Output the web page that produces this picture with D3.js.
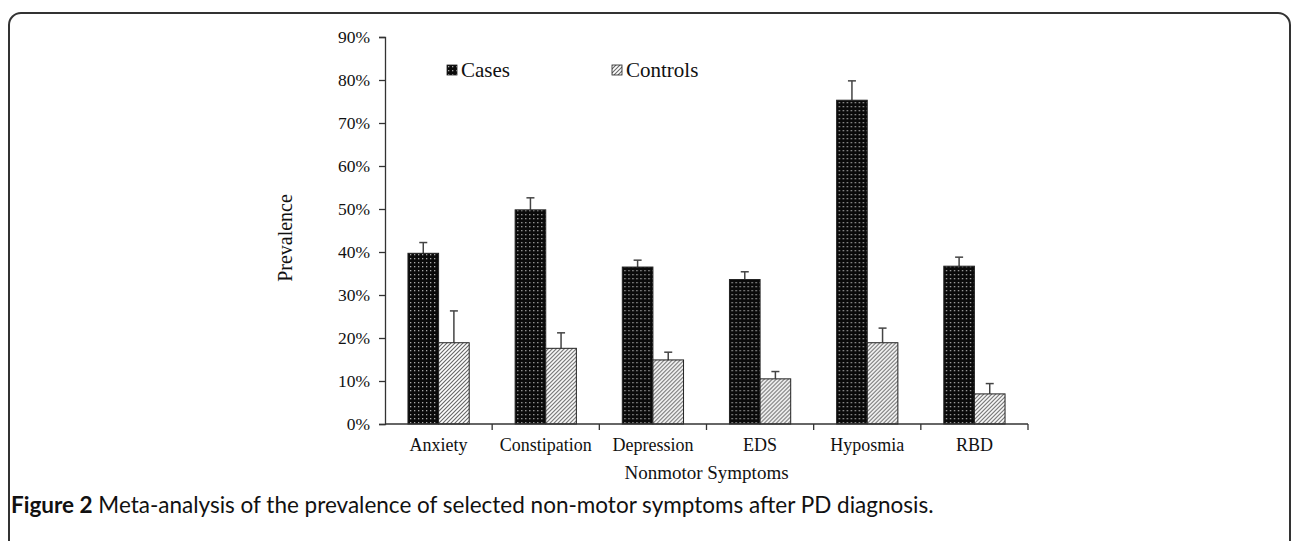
<!DOCTYPE html>
<html>
<head>
<meta charset="utf-8">
<script src="https://cdn.jsdelivr.net/npm/d3@7"></script>
<style>
  html, body { margin: 0; padding: 0; background: #fff; }
  svg { display: block; }
  .serif { font-family: "Liberation Serif", "Times New Roman", serif; fill: #111; }
</style>
</head>
<body>
<svg id="chart" width="1292" height="541"></svg>
<script>
const categories = ['Anxiety', 'Constipation', 'Depression', 'EDS', 'Hyposmia', 'RBD'];
const series = ['Cases', 'Controls'];
const casesValues = [0.397, 0.498, 0.365, 0.336, 0.753, 0.367];
const casesUpper = [0.422, 0.526, 0.381, 0.354, 0.798, 0.388];
const controlsValues = [0.189, 0.176, 0.149, 0.105, 0.189, 0.070];
const controlsUpper = [0.263, 0.212, 0.167, 0.122, 0.223, 0.094];
const yTicks = [0, 0.1, 0.2, 0.3, 0.4, 0.5, 0.6, 0.7, 0.8, 0.9];

const svg = d3.select('#chart');
const margin = { top: 37, right: 264, bottom: 117, left: 385 };
const width = 1292 - margin.left - margin.right;
const height = 541 - margin.top - margin.bottom;

// patterns
const defs = svg.append('defs');
const dots = defs.append('pattern')
  .attr('id', 'dots')
  .attr('patternUnits', 'userSpaceOnUse')
  .attr('width', 4).attr('height', 4);
dots.append('rect').attr('width', 4).attr('height', 4).attr('fill', '#0a0a0a');
dots.append('rect').attr('x', 1).attr('y', 1).attr('width', 1.3).attr('height', 1.3).attr('fill', '#a8a8a8');

const hatch = defs.append('pattern')
  .attr('id', 'hatch')
  .attr('patternUnits', 'userSpaceOnUse')
  .attr('width', 4).attr('height', 4);
hatch.append('rect').attr('width', 4).attr('height', 4).attr('fill', '#fff');
hatch.append('path')
  .attr('d', 'M-1,1 l2,-2 M0,4 l4,-4 M3,5 l2,-2')
  .attr('stroke', '#666').attr('stroke-width', 1.1);

const fills = { Cases: 'url(#dots)', Controls: 'url(#hatch)' };

// outer frame
svg.append('rect')
  .attr('x', 9).attr('y', 13)
  .attr('width', 1281).attr('height', 560)
  .attr('rx', 12)
  .attr('fill', 'none')
  .attr('stroke', '#333')
  .attr('stroke-width', 2);

const g = svg.append('g')
  .attr('transform', 'translate(' + margin.left + ',' + margin.top + ')');

const x = d3.scaleBand()
  .domain(categories)
  .range([0, width]);

const xInner = d3.scaleBand()
  .domain(series)
  .range([0, x.bandwidth()])
  .paddingOuter(0.75);

const y = d3.scaleLinear()
  .domain([0, 0.9])
  .range([height, 0]);

const rows = categories.map((c, i) => ({
  category: c,
  values: [
    { key: 'Cases', value: casesValues[i], upper: casesUpper[i] },
    { key: 'Controls', value: controlsValues[i], upper: controlsUpper[i] }
  ]
}));

const group = g.selectAll('.group')
  .data(rows)
  .enter().append('g')
  .attr('class', 'group')
  .attr('transform', d => 'translate(' + x(d.category) + ',0)');

const bar = group.selectAll('.bar')
  .data(d => d.values)
  .enter().append('g')
  .attr('class', 'bar');

bar.append('line')
  .attr('x1', d => xInner(d.key) + xInner.bandwidth() / 2)
  .attr('x2', d => xInner(d.key) + xInner.bandwidth() / 2)
  .attr('y1', d => y(d.value))
  .attr('y2', d => y(d.upper))
  .attr('stroke', '#444')
  .attr('stroke-width', 1.5);

bar.append('line')
  .attr('x1', d => xInner(d.key) + xInner.bandwidth() / 2 - 4)
  .attr('x2', d => xInner(d.key) + xInner.bandwidth() / 2 + 4)
  .attr('y1', d => y(d.upper))
  .attr('y2', d => y(d.upper))
  .attr('stroke', '#444')
  .attr('stroke-width', 1.5);

bar.append('rect')
  .attr('x', d => xInner(d.key))
  .attr('y', d => y(d.value))
  .attr('width', xInner.bandwidth())
  .attr('height', d => height - y(d.value))
  .attr('fill', d => fills[d.key])
  .attr('stroke', '#222')
  .attr('stroke-width', 1);

// y axis
const yAxis = g.append('g')
  .call(d3.axisLeft(y).tickValues(yTicks).tickFormat(d3.format('.0%')).tickSize(6).tickPadding(9));
yAxis.select('.domain').attr('stroke', '#333').attr('stroke-width', 1.3);
yAxis.selectAll('.tick line').attr('stroke', '#333').attr('stroke-width', 1.3);
yAxis.selectAll('.tick text')
  .attr('class', 'serif')
  .style('font-size', '17.5px');

// x axis
const xAxis = g.append('g')
  .attr('transform', 'translate(0,' + height + ')');
xAxis.append('line')
  .attr('x1', 0).attr('x2', width)
  .attr('stroke', '#333').attr('stroke-width', 1.3);
xAxis.selectAll('.sep')
  .data(categories)
  .enter().append('line')
  .attr('class', 'sep')
  .attr('x1', d => x(d) + x.bandwidth())
  .attr('x2', d => x(d) + x.bandwidth())
  .attr('y1', 0).attr('y2', 6)
  .attr('stroke', '#333').attr('stroke-width', 1.3);
xAxis.selectAll('.cat')
  .data(categories)
  .enter().append('text')
  .attr('class', 'serif')
  .attr('x', d => x(d) + x.bandwidth() / 2)
  .attr('y', 27)
  .attr('text-anchor', 'middle')
  .style('font-size', '18px')
  .text(d => d);

// axis titles
svg.append('text')
  .attr('class', 'serif')
  .attr('transform', 'translate(292,238) rotate(-90)')
  .attr('text-anchor', 'middle')
  .style('font-size', '20px')
  .text('Prevalence');

svg.append('text')
  .attr('class', 'serif')
  .attr('x', margin.left + width / 2)
  .attr('y', 479)
  .attr('text-anchor', 'middle')
  .style('font-size', '19px')
  .text('Nonmotor Symptoms');

// legend
const legendX = [447, 612];
const legend = svg.selectAll('.legend')
  .data(series)
  .enter().append('g')
  .attr('class', 'legend')
  .attr('transform', (d, i) => 'translate(' + legendX[i] + ',65)');
legend.append('rect')
  .attr('width', 10).attr('height', 10)
  .attr('fill', d => fills[d])
  .attr('stroke', '#222').attr('stroke-width', 0.8);
legend.append('text')
  .attr('class', 'serif')
  .attr('x', 14).attr('y', 12)
  .style('font-size', '21px')
  .text(d => d);

// caption
const caption = svg.append('text')
  .attr('x', 11).attr('y', 513)
  .style('font-family', 'Lato, "Noto Sans", sans-serif')
  .style('font-size', '22.5px')
  .attr('fill', '#111');
caption.append('tspan').style('font-weight', 'bold').text('Figure 2');
caption.append('tspan').text(' Meta-analysis of the prevalence of selected non-motor symptoms after PD diagnosis.');
</script>
</body>
</html>
